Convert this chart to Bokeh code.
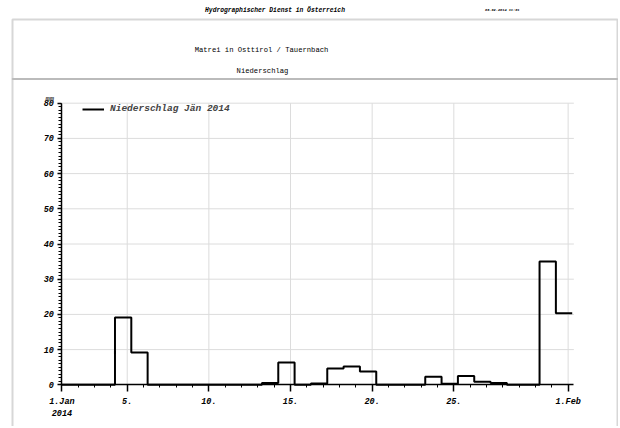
from bokeh.plotting import figure
from bokeh.models import (Range1d, FixedTicker, Label, BoxAnnotation, Legend, LegendItem,
                          ColumnDataSource, LinearAxis)
from bokeh.embed import file_html
from bokeh.resources import INLINE

# ---- data ----
# day index 0 = 1 Jan 2014 ... 31 = 1 Feb 2014; daily precipitation (mm)
day_index = list(range(32))
precip_mm = [0, 0, 0, 0, 19.1, 9.2, 0, 0, 0, 0, 0, 0, 0, 0.5, 6.3, 0, 0.4, 4.6, 5.2, 3.8,
             0, 0, 0, 2.3, 0.3, 2.5, 0.9, 0.5, 0, 0, 35.0, 20.3]
interval_shift = 0.75           # each daily value covers [day-0.75, day+0.25]
x_tick_days = [0, 4, 9, 14, 19, 24, 31]
x_tick_labels = ["1.Jan\n2014", "5.", "10.", "15.", "20.", "25.", "1.Feb"]
y_ticks = list(range(0, 81, 10))
x_end_day = 31.35
y_max = 80

header_text = "Hydrographischer Dienst in Österreich"
date_text = "06.02.2014 11:01"
station_text = "Matrei in Osttirol / Tauernbach"
param_text = "Niederschlag"
legend_text = "Niederschlag Jän 2014"
unit_text = "mm"

# ---- page layout (pixels) ----
W, H = 618, 426
PX0, PXD = 61.4, 16.33      # x pixel of day 0, pixels per day
PY0, PYM = 384.3, 3.52      # y pixel of 0 mm, pixels per mm

# ---- step coordinates derived from the data ----
xs = [max(d - interval_shift, 0) for d in day_index] + [day_index[-1] + 1 - interval_shift]
ys = precip_mm + [precip_mm[-1]]
src = ColumnDataSource(dict(x=xs, y=ys))

FONT = "Liberation Mono"

p = figure(width=W, height=H, output_backend="svg", toolbar_location=None,
           x_range=Range1d(0, W), y_range=Range1d(H, 0),
           x_axis_type=None, y_axis_type=None,
           min_border_left=0, min_border_right=0, min_border_top=0, min_border_bottom=0)
p.outline_line_color = None
p.background_fill_color = "white"
p.border_fill_color = "white"
p.xgrid.visible = False
p.ygrid.visible = False

p.extra_x_ranges = {"days": Range1d((0 - PX0) / PXD, (W - PX0) / PXD)}
p.extra_y_ranges = {"mm": Range1d((PY0 - H) / PYM, (PY0 - 0) / PYM)}
DM = dict(x_range_name="days", y_range_name="mm")

# grid lines (from the tick arrays)
gx = [t for t in x_tick_days if t > 0]
p.segment(x0=gx, x1=gx, y0=[0] * len(gx), y1=[y_max] * len(gx),
          line_color="#dcdcdc", line_width=1, level="underlay", **DM)
gy = [t for t in y_ticks if t > 0]
p.segment(x0=[0] * len(gy), x1=[x_end_day] * len(gy), y0=gy, y1=gy,
          line_color="#dcdcdc", line_width=1, level="underlay", **DM)

r = p.step("x", "y", source=src, mode="after", line_color="black", line_width=2, **DM)

# axes
xa = LinearAxis(fixed_location=0, bounds=(0, x_end_day),
                ticker=FixedTicker(ticks=x_tick_days, minor_ticks=day_index), **DM)
xa.major_label_overrides = {d: t for d, t in zip(x_tick_days, x_tick_labels)}
ya = LinearAxis(fixed_location=0, bounds=(0, y_max),
                ticker=FixedTicker(ticks=y_ticks, minor_ticks=list(range(0, y_max + 1))), **DM)
for ax in (xa, ya):
    ax.axis_line_color = "black"
    ax.axis_line_width = 1.5
    ax.major_tick_line_color = "black"
    ax.minor_tick_line_color = "black"
    ax.major_tick_line_width = 1.5
    ax.minor_tick_line_width = 1
    ax.major_tick_in = 0
    ax.minor_tick_in = 0
    ax.major_label_text_font = FONT
    ax.major_label_text_font_style = "bold italic"
    ax.major_label_text_font_size = "8.5px"
    ax.major_label_text_color = "black"
xa.major_tick_out = 7
xa.minor_tick_out = 3
xa.major_label_standoff = 5
ya.major_tick_out = 4
ya.minor_tick_out = 3
ya.major_label_standoff = 4
p.add_layout(xa, "below")
p.add_layout(ya, "left")

# legend (location = bottom-left corner of legend box, pixels from frame bottom-left)
leg = Legend(items=[LegendItem(label=legend_text, renderers=[r])], location=(80, H - 116),
             margin=0, padding=2, glyph_width=22, glyph_height=10, label_height=10,
             label_standoff=6, background_fill_alpha=0, border_line_alpha=0,
             label_text_font=FONT, label_text_font_style="bold italic",
             label_text_font_size="9.5px")
p.add_layout(leg)

# unit label at the top of the y axis
p.add_layout(Label(x=0, y=y_max, x_offset=-8, y_offset=0, text=unit_text, text_font=FONT,
                   text_font_style="bold italic", text_font_size="7px",
                   text_align="right", text_baseline="bottom", **DM))

# frame boxes (page pixel coordinates)
box_kw = dict(fill_alpha=0, line_color="#7a7a7a", line_width=2)
p.add_layout(BoxAnnotation(left=12, right=617, top=19, bottom=78.5, **box_kw))
p.add_layout(BoxAnnotation(left=12, right=617, top=78.5, bottom=H + 40, **box_kw))

# header texts
def add_text(x, y, text, size, style, align="center"):
    p.add_layout(Label(x=x, y=y, text=text, text_font=FONT, text_font_style=style,
                       text_font_size=size, text_align=align, text_baseline="middle",
                       text_color="black"))

add_text(274.5, 10, header_text, "6.3px", "bold italic")
add_text(519, 10, date_text, "3.6px", "bold italic", align="right")
add_text(261, 49.5, station_text, "7.2px", "normal")
add_text(262, 70, param_text, "7.2px", "normal")

open("out.html", "w").write(file_html(p, INLINE))
